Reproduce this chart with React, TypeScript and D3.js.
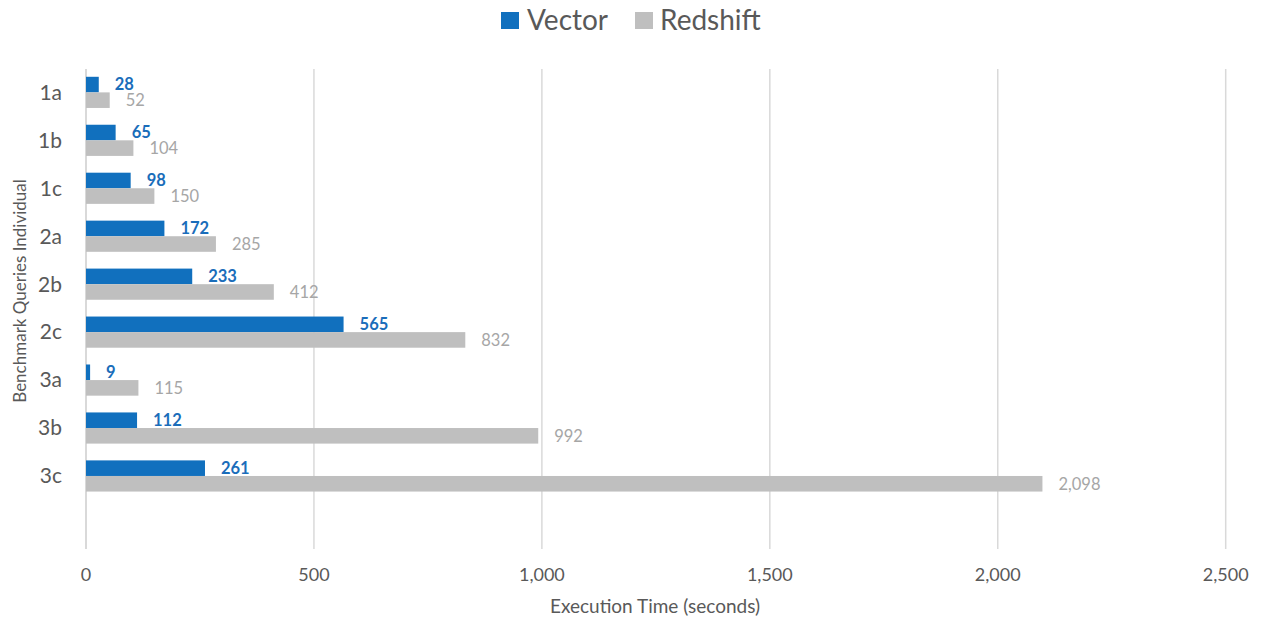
import React from "react";
import * as d3 from "d3";

const categories = ["1a", "1b", "1c", "2a", "2b", "2c", "3a", "3b", "3c"];
const vectorValues = [28, 65, 98, 172, 233, 565, 9, 112, 261];
const redshiftValues = [52, 104, 150, 285, 412, 832, 115, 992, 2098];
const xTicks = [0, 500, 1000, 1500, 2000, 2500];
const seriesNames = ["Vector", "Redshift"];

const W = 1261;
const H = 620;
const FONT = "Lato, 'Open Sans', sans-serif";
const BLUE = "#1170BE";
const GREY = "#BFBFBF";
const BLUE_LABEL = "#1A6DBA";
const GREY_LABEL = "#A6A6A6";
const TEXT = "#595959";

export default function App() {
  const x = d3.scaleLinear().domain([0, 2500]).range([86, 1225.7]);
  const y = d3
    .scaleBand<string>()
    .domain(categories)
    .range([68.4, 499.95])
    .paddingInner(0.35)
    .paddingOuter(0.175);
  const sub = d3.scaleBand<string>().domain(seriesNames).range([0, y.bandwidth()]);
  const fmt = d3.format(",");
  const plotTop = 69;
  const plotBottom = 549;

  const series = [
    { name: "Vector", values: vectorValues, color: BLUE, label: BLUE_LABEL, weight: 700 },
    { name: "Redshift", values: redshiftValues, color: GREY, label: GREY_LABEL, weight: 400 },
  ];

  return (
    <svg
      width={W}
      height={H}
      style={{ position: "absolute", left: 0, top: 0, background: "#fff" }}
      fontFamily={FONT}
    >
      {/* Legend */}
      <rect x={501} y={12} width={18} height={17} fill={BLUE} />
      <text x={527} y={30} fontSize={28} fill={TEXT}>Vector</text>
      <rect x={635} y={12} width={18} height={17} fill={GREY} />
      <text x={660} y={30} fontSize={28} fill={TEXT}>Redshift</text>

      {/* Gridlines */}
      {xTicks.map((t) => (
        <line
          key={t}
          x1={x(t)}
          x2={x(t)}
          y1={plotTop}
          y2={plotBottom}
          stroke="#D9D9D9"
          strokeWidth={t === 0 ? 2 : 1.5}
        />
      ))}

      {/* Bars */}
      {series.map((s) =>
        categories.map((c, i) => {
          const y0 = (y(c) as number) + (sub(s.name) as number);
          const h = sub.bandwidth();
          return (
            <g key={s.name + c}>
              <rect x={x(0)} y={y0} width={x(s.values[i]) - x(0)} height={h} fill={s.color} />
              <text
                x={x(s.values[i]) + 16}
                y={y0 + h / 2}
                dy="0.35em"
                fontSize={16.5}
                fontWeight={s.weight}
                fill={s.label}
              >
                {fmt(s.values[i])}
              </text>
            </g>
          );
        })
      )}

      {/* Y category labels */}
      {categories.map((c) => (
        <text
          key={c}
          x={62}
          y={(y(c) as number) + y.bandwidth() / 2}
          dy="0.35em"
          textAnchor="end"
          fontSize={21}
          fill={TEXT}
        >
          {c}
        </text>
      ))}

      {/* X tick labels */}
      {xTicks.map((t) => (
        <text key={t} x={x(t)} y={575} dy="0.35em" textAnchor="middle" fontSize={18} fill={TEXT}>
          {fmt(t)}
        </text>
      ))}

      {/* Axis titles */}
      <text x={655} y={606} dy="0.35em" textAnchor="middle" fontSize={19} fill={TEXT}>
        Execution Time (seconds)
      </text>
      <text
        transform={`translate(20, 291) rotate(-90)`}
        textAnchor="middle"
        dy="0.35em"
        fontSize={17}
        fill={TEXT}
      >
        Benchmark Queries Individual
      </text>
    </svg>
  );
}
